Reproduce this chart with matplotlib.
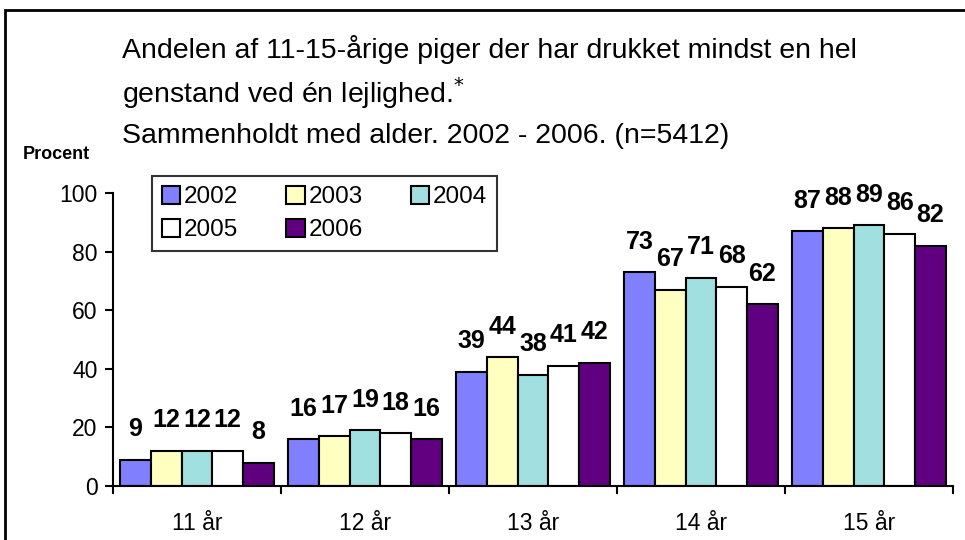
import matplotlib
matplotlib.use('Agg')
import matplotlib.pyplot as plt
import numpy as np
from matplotlib.patches import Rectangle

plt.rcParams['font.family'] = ['Liberation Sans', 'DejaVu Sans']

# data
ages = ['11 år', '12 år', '13 år', '14 år', '15 år']
years = ['2002', '2003', '2004', '2005', '2006']
v2002 = [9, 16, 39, 73, 87]
v2003 = [12, 17, 44, 67, 88]
v2004 = [12, 19, 38, 71, 89]
v2005 = [12, 18, 41, 68, 86]
v2006 = [8, 16, 42, 62, 82]
series = [v2002, v2003, v2004, v2005, v2006]
colors = ['#8080ff', '#ffffc0', '#a0e0e0', '#ffffff', '#600080']

fig = plt.figure(figsize=(9.65, 5.4), dpi=100)
ax = fig.add_axes([113 / 965, 1 - 486 / 540, 840 / 965, 293 / 540])

x = np.arange(len(ages))
w = 0.183
handles = []
for i, (vals, c) in enumerate(zip(series, colors)):
    pos = x + (i - 2) * w
    b = ax.bar(pos, vals, w, color=c, edgecolor='black', linewidth=1.5, label=years[i])
    handles.append(b)
    for px, v in zip(pos, vals):
        ax.annotate(str(v), (px, v), xytext=(0, 22), textcoords='offset points',
                    ha='center', va='center', fontsize=18, fontweight='bold')

ax.set_xlim(-0.5, len(ages) - 0.5)
ax.set_ylim(0, 100)
ax.set_yticks([0, 20, 40, 60, 80, 100])
ax.tick_params(axis='y', labelsize=16.5, length=6, width=1.5, direction='out', pad=5)
ax.set_xticks(x)
ax.set_xticklabels(ages)
ax.set_xticks(np.arange(len(ages) + 1) - 0.5, minor=True)
ax.tick_params(axis='x', which='major', length=0, labelsize=16.5, pad=19)
ax.tick_params(axis='x', which='minor', length=6, width=1.5, direction='out')
for s in ['top', 'right']:
    ax.spines[s].set_visible(False)
ax.spines['left'].set_linewidth(1.5)
ax.spines['bottom'].set_linewidth(1.5)

# legend filled row by row: 2002 2003 2004 / 2005 2006
order = [0, 3, 1, 4, 2]
leg = ax.legend([handles[k] for k in order], [years[k] for k in order], ncol=3,
                loc='upper left', bbox_to_anchor=(152 / 965, 1 - 176 / 540),
                bbox_transform=fig.transFigure, fontsize=17.5, frameon=True, fancybox=False,
                handlelength=0.75, handleheight=0.75, handletextpad=0.15, columnspacing=2.0,
                borderpad=0.4, labelspacing=0.45, borderaxespad=0)
leg.get_frame().set_edgecolor('black')
leg.get_frame().set_linewidth(1.5)

# title
fs = 20.5
fig.text(122 / 965, 1 - 50 / 540, 'Andelen af 11-15-årige piger der har drukket mindst en hel',
         fontsize=fs, va='center', ha='left')
fig.text(122 / 965, 1 - 93 / 540, 'genstand ved én lejlighed.$^{*}$',
         fontsize=fs, va='center', ha='left')
fig.text(122 / 965, 1 - 136 / 540, 'Sammenholdt med alder. 2002 - 2006. (n=5412)',
         fontsize=fs, va='center', ha='left')
fig.text(23 / 965, 1 - 155 / 540, 'Procent', fontsize=13, fontweight='bold', va='center')

# outer frame
fig.patches.append(Rectangle((5 / 965, -0.1), 1.1, 1 - 10 / 540 + 0.1, transform=fig.transFigure,
                             fill=False, edgecolor='black', linewidth=2))

fig.savefig('out.png', dpi=100)
